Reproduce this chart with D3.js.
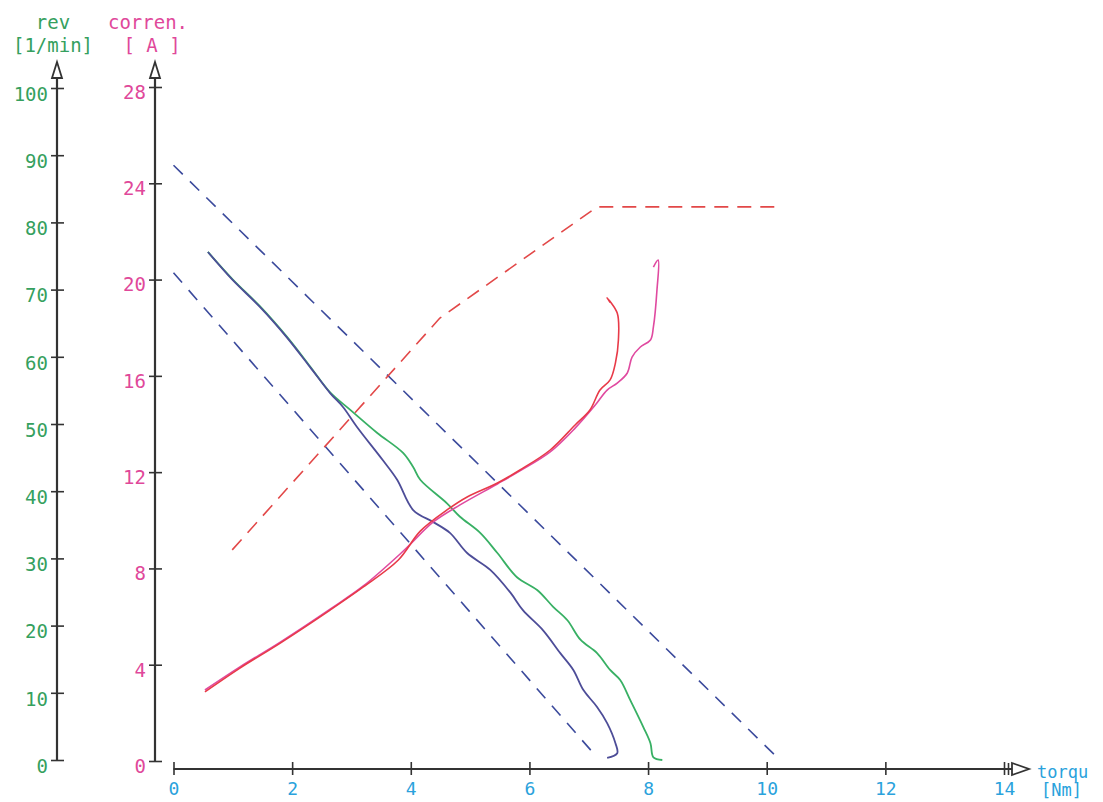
<!DOCTYPE html>
<html>
<head>
<meta charset="utf-8">
<script src="https://cdn.jsdelivr.net/npm/d3@7"></script>
<style>
  body { margin: 0; background: #fff; }
  svg text { font-family: "DejaVu Sans Mono", monospace; }
</style>
</head>
<body>
<svg id="chart" width="1103" height="802"></svg>
<script>
// tick values of the three axes
var torqueTicks = [0, 2, 4, 6, 8, 10, 12, 14];
var revTicks = [0, 10, 20, 30, 40, 50, 60, 70, 80, 90, 100];
var currentTicks = [0, 4, 8, 12, 16, 20, 24, 28];

// measured rev curves [torque Nm, rev 1/min]
var revBlue = [[0.58,75.6],[1.00,71.4],[1.46,67.4],[1.91,62.9],[2.30,58.5],[2.64,54.6],[2.86,52.5],[3.09,49.6],[3.53,44.6],[3.77,41.7],[4.04,37.2],[4.38,35.4],[4.66,33.8],[4.95,30.8],[5.34,28.3],[5.68,24.9],[5.89,22.3],[6.23,19.3],[6.52,15.9],[6.74,13.4],[6.91,10.4],[7.14,7.9],[7.31,5.5],[7.45,2.5],[7.48,1.0],[7.31,0.3]];
var revGreen = [[0.58,75.6],[1.00,71.5],[1.46,67.5],[1.91,63.0],[2.30,58.6],[2.64,54.7],[2.98,52.1],[3.43,48.7],[3.87,45.7],[4.04,43.6],[4.16,41.7],[4.61,38.2],[4.83,36.2],[5.17,33.8],[5.46,30.8],[5.79,27.2],[6.13,25.3],[6.40,22.8],[6.64,20.8],[6.86,17.9],[7.14,15.9],[7.36,13.4],[7.53,11.9],[7.70,8.9],[7.92,4.9],[8.04,2.5],[8.09,0.4],[8.24,0.0]];

// measured current curves [torque Nm, current A]
var currentRed = [[0.53,2.87],[1.12,3.86],[1.80,4.90],[2.64,6.27],[3.20,7.23],[3.79,8.35],[4.16,9.55],[4.61,10.43],[4.95,10.97],[5.46,11.55],[5.84,12.09],[6.35,12.92],[6.77,13.96],[7.02,14.58],[7.19,15.41],[7.36,15.83],[7.45,16.54],[7.50,17.49],[7.48,18.61],[7.31,19.24],[7.36,19.05]];
var currentPink = [[0.53,2.95],[1.12,3.91],[1.80,4.94],[2.64,6.31],[3.20,7.27],[3.82,8.60],[3.99,9.00],[4.38,9.93],[4.83,10.64],[5.46,11.51],[5.84,12.05],[6.35,12.84],[6.77,13.83],[7.11,14.79],[7.31,15.41],[7.48,15.70],[7.65,16.12],[7.73,16.78],[7.87,17.20],[8.04,17.49],[8.09,18.03],[8.15,19.57],[8.17,20.81],[8.09,20.52]];

// dashed reference lines
var revLimitHigh = [[0, 88.5], [10.14, 0.7]];
var revLimitLow = [[0, 72.5], [7.06, 1.2]];
var currentLimit = [[0.99, 8.77], [4.49, 18.40], [7.14, 23.02], [10.23, 23.02]];

var svg = d3.select("#chart");
var ink = "#333";
var green = "#35a05e", pink = "#e0489a", blue = "#2aa2dc";

var x = d3.scaleLinear().domain([0, 14]).range([173.5, 1004]);
var yRev = d3.scaleLinear().domain([0, 100]).range([760, 88]);
var yCur = d3.scaleLinear().domain([0, 28]).range([761, 87]);

var revX = 57, curX = 155, axisY = 769;

// rev axis
var gRev = svg.append("g").attr("transform", "translate(" + revX + ",0)");
gRev.call(d3.axisLeft(yRev).tickValues(revTicks).tickSize(6).tickPadding(3));
gRev.select(".domain").remove();
gRev.selectAll(".tick line").attr("x1", -6).attr("x2", 7).attr("stroke", ink).attr("stroke-width", 1.6);
gRev.selectAll(".tick text").attr("fill", green).attr("font-size", 19).attr("dy", "0.65em");

// current axis
var gCur = svg.append("g").attr("transform", "translate(" + curX + ",0)");
gCur.call(d3.axisLeft(yCur).tickValues(currentTicks).tickSize(6).tickPadding(3));
gCur.select(".domain").remove();
gCur.selectAll(".tick line").attr("x1", -6).attr("x2", 7).attr("stroke", ink).attr("stroke-width", 1.6);
gCur.selectAll(".tick text").attr("fill", pink).attr("font-size", 19).attr("dy", "0.6em");

// torque axis
var gX = svg.append("g").attr("transform", "translate(0," + axisY + ")");
gX.call(d3.axisBottom(x).tickValues(torqueTicks).tickSize(6).tickPadding(7));
gX.select(".domain").remove();
gX.selectAll(".tick line").attr("y1", -7).attr("y2", 6).attr("stroke", ink).attr("stroke-width", 1.6);
gX.selectAll(".tick text").attr("fill", blue).attr("font-size", 18);

// axis lines with open arrow heads
function vArrow(ax, y0) {
  svg.append("line").attr("x1", ax).attr("x2", ax).attr("y1", y0).attr("y2", 78)
    .attr("stroke", ink).attr("stroke-width", 2.2);
  svg.append("path").attr("d", "M" + (ax - 5) + ",78 L" + ax + ",62 L" + (ax + 5) + ",78 Z")
    .attr("fill", "#fff").attr("stroke", ink).attr("stroke-width", 1.8);
}
vArrow(revX, yRev(0));
vArrow(curX, yCur(0));

svg.append("line").attr("x1", x(0)).attr("x2", 1012).attr("y1", axisY).attr("y2", axisY)
  .attr("stroke", ink).attr("stroke-width", 2.2);
svg.append("line").attr("x1", 1008.5).attr("x2", 1008.5).attr("y1", axisY - 6).attr("y2", axisY + 6)
  .attr("stroke", ink).attr("stroke-width", 1.6);
svg.append("path").attr("d", "M1012," + (axisY - 6) + " L1029," + axisY + " L1012," + (axisY + 6) + " Z")
  .attr("fill", "#fff").attr("stroke", ink).attr("stroke-width", 1.8);

// axis titles
function label(t, px, py, col, anchor, size) {
  svg.append("text").attr("x", px).attr("y", py).attr("fill", col)
    .attr("font-size", size || 19).attr("text-anchor", anchor || "middle").text(t);
}
label("rev", 53, 29, green);
label("[1/min]", 53, 52, green);
label("corren.", 148, 29, pink);
label("[ A ]", 152, 52, pink);
label("torqu", 1037, 778, blue, "start", 17);
label("[Nm]", 1041, 796, blue, "start", 17);

// lines
var lineRev = d3.line().x(function(d) { return x(d[0]); }).y(function(d) { return yRev(d[1]); });
var lineCur = d3.line().x(function(d) { return x(d[0]); }).y(function(d) { return yCur(d[1]); });
var smoothRev = d3.line().curve(d3.curveCatmullRom.alpha(0.5))
  .x(function(d) { return x(d[0]); }).y(function(d) { return yRev(d[1]); });
var smoothCur = d3.line().curve(d3.curveCatmullRom.alpha(0.5))
  .x(function(d) { return x(d[0]); }).y(function(d) { return yCur(d[1]); });

var dashBlue = "#3b4a9c";
svg.append("path").attr("d", lineRev(revLimitHigh)).attr("fill", "none")
  .attr("stroke", dashBlue).attr("stroke-width", 1.6).attr("stroke-dasharray", "13,10");
svg.append("path").attr("d", lineRev(revLimitLow)).attr("fill", "none")
  .attr("stroke", dashBlue).attr("stroke-width", 1.6).attr("stroke-dasharray", "13,10");
svg.append("path").attr("d", lineCur(currentLimit)).attr("fill", "none")
  .attr("stroke", "#e24848").attr("stroke-width", 1.6).attr("stroke-dasharray", "14,9");

svg.append("path").attr("d", smoothRev(revGreen)).attr("fill", "none")
  .attr("stroke", "#38b064").attr("stroke-width", 1.8).attr("stroke-linejoin", "round");
svg.append("path").attr("d", smoothRev(revBlue)).attr("fill", "none")
  .attr("stroke", "#4d4d98").attr("stroke-width", 1.8).attr("stroke-linejoin", "round");

svg.append("path").attr("d", smoothCur(currentPink)).attr("fill", "none")
  .attr("stroke", "#e04aa0").attr("stroke-width", 1.6).attr("stroke-linejoin", "round");
svg.append("path").attr("d", smoothCur(currentRed)).attr("fill", "none")
  .attr("stroke", "#e83a48").attr("stroke-width", 1.6).attr("stroke-linejoin", "round");
</script>
</body>
</html>
